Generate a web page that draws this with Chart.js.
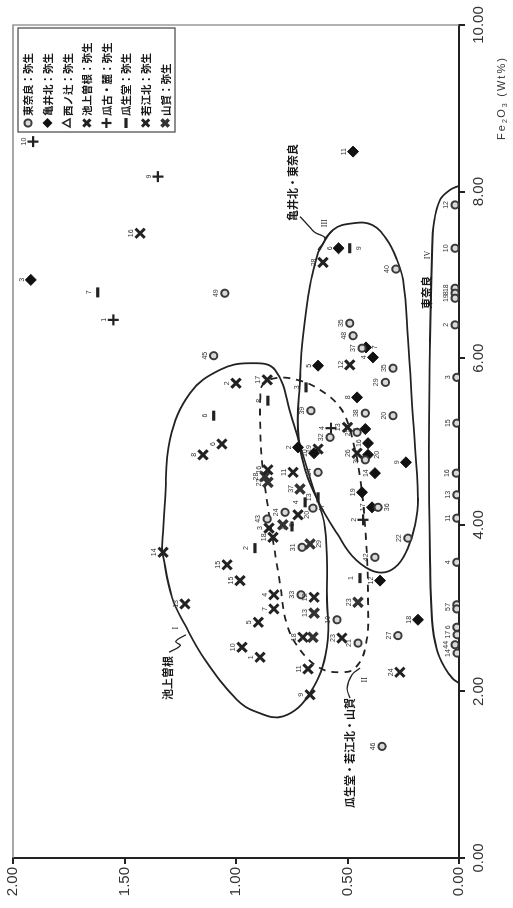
<!DOCTYPE html>
<html><head><meta charset="utf-8">
<script src="https://cdn.jsdelivr.net/npm/chart.js@4.4.1/dist/chart.umd.min.js"></script>
<style>
html,body{margin:0;padding:0;background:#fff;overflow:hidden;width:513px;height:908px;}
#wrap{position:absolute;left:0;top:0;width:908px;height:513px;transform-origin:0 0;transform:translate(0px,908px) rotate(-90deg);}
canvas{display:block;}
</style></head><body>
<div id="wrap"><canvas id="c" width="908" height="513"></canvas></div>
<script>
// ---------- data (x = Fe2O3 wt%, y = second oxide wt%) ----------
const seriesNames = ['東奈良：弥生','亀井北：弥生','西ノ辻：弥生','池上曽根：弥生','瓜古・麓：弥生','瓜生堂：弥生','若江北：弥生','山賀：弥生'];

const higashinaraNo = [49,40,35,48,37,45,35,29,38,20,39,32,25,30,34,36,47,24,43,22,31,42,33,10,21,27,46,12,10,18,8,19,2,3,15,16,13,11,4,7,5,6,17,44,14];
const higashinaraFe = [6.78,7.07,6.42,6.27,6.12,6.03,5.88,5.71,5.34,5.31,5.37,5.05,5.11,4.78,4.63,4.21,4.20,4.15,4.07,3.84,3.73,3.61,3.16,2.86,2.58,2.67,1.34,7.84,7.32,6.84,6.78,6.72,6.40,5.77,5.22,4.62,4.36,4.08,3.55,3.04,2.99,2.77,2.68,2.56,2.46];
const higashinaraY  = [1.05,0.283,0.49,0.475,0.435,1.10,0.296,0.33,0.42,0.296,0.664,0.578,0.457,0.42,0.632,0.363,0.655,0.78,0.86,0.229,0.704,0.377,0.708,0.547,0.453,0.274,0.345,0.018,0.018,0.018,0.018,0.018,0.018,0.01,0.01,0.012,0.01,0.01,0.01,0.01,0.01,0.01,0.008,0.018,0.008];

const kameiNo = [3,11,6,7,4,5,8,1,16,20,9,14,19,17,2,10,12,18];
const kameiFe = [6.94,8.48,7.32,6.13,6.01,5.91,5.53,5.15,4.98,4.84,4.75,4.62,4.39,4.21,4.93,4.86,3.33,2.86];
const kameiY  = [1.92,0.475,0.54,0.417,0.386,0.632,0.457,0.42,0.408,0.408,0.238,0.377,0.435,0.39,0.722,0.65,0.354,0.184];

const nishinotsujiNo = [];
const nishinotsujiFe = [];
const nishinotsujiY  = [];

const ikegamiNo = [1,2,3,4,5,6,7,8,9,10,11,12,13,14,15,15,16,17,18];
const ikegamiFe = [2.41,5.70,3.96,3.16,2.83,4.97,2.99,4.84,1.96,2.53,2.27,3.13,3.05,3.67,3.52,3.33,4.66,5.74,3.85];
const ikegamiY  = [0.892,1.00,0.852,0.83,0.90,1.063,0.83,1.148,0.668,0.973,0.677,0.65,1.229,1.327,1.04,0.982,0.857,0.86,0.834];

const urikoNo = [10,9,1,4,2];
const urikoFe = [8.60,8.18,6.46,5.16,4.06];
const urikoY  = [1.91,1.35,1.55,0.574,0.43];

const uryudoNo = [7,9,6,8,3,13,4,14,2,1];
const uryudoFe = [6.79,7.32,5.31,5.49,5.65,4.33,4.27,3.98,3.72,3.36];
const uryudoY  = [1.62,0.49,1.10,0.857,0.686,0.632,0.69,0.749,0.915,0.444];

const wakaeNo = [16,28,12,13,26,19,11,20,18,23,24];
const wakaeFe = [7.50,7.15,5.92,5.17,4.86,4.91,4.63,4.12,2.65,2.64,2.23];
const wakaeY  = [1.43,0.61,0.49,0.50,0.457,0.632,0.744,0.722,0.70,0.525,0.265];

const yamagaNo = [28,22,37,5,29,13,21,23];
const yamagaFe = [4.58,4.51,4.43,4.00,3.77,2.94,2.65,3.07];
const yamagaY  = [0.87,0.857,0.713,0.79,0.668,0.65,0.655,0.453];

// enclosure curves (Fe, y)
const curveI = [[3.70,1.332],[4.30,1.318],[5.02,1.296],[5.58,1.206],[5.86,1.072],[5.94,0.937],[5.86,0.825],[5.28,0.749],[4.96,0.713],[4.48,0.659],[3.97,0.601],[3.10,0.592],[2.53,0.592],[1.98,0.668],[1.70,0.789],[1.76,0.915],[1.90,0.996],[2.38,1.139],[2.80,1.229],[3.13,1.287],[3.70,1.332]];
const curveII = [[5.49,0.892],[5.67,0.883],[5.76,0.825],[5.74,0.726],[5.62,0.623],[5.41,0.534],[5.14,0.489],[4.57,0.444],[3.82,0.417],[3.10,0.408],[2.56,0.417],[2.28,0.466],[2.23,0.534],[2.28,0.623],[2.50,0.713],[2.80,0.771],[3.30,0.803],[4.06,0.848],[4.74,0.883],[5.26,0.892],[5.49,0.892]];
const curveIII = [[7.27,0.632],[7.54,0.565],[7.62,0.475],[7.60,0.39],[7.42,0.323],[7.18,0.278],[6.94,0.251],[6.25,0.229],[5.26,0.206],[4.33,0.184],[4.00,0.197],[3.72,0.229],[3.52,0.274],[3.43,0.332],[3.46,0.399],[3.63,0.48],[3.88,0.543],[4.24,0.623],[4.66,0.69],[5.14,0.722],[5.74,0.713],[6.25,0.70],[6.88,0.668],[7.27,0.632]];
const curveIV = [[8.07,0.0],[8.02,0.04],[7.90,0.085],[7.64,0.112],[7.24,0.121],[6.22,0.13],[4.90,0.135],[3.58,0.13],[2.86,0.121],[2.50,0.099],[2.28,0.063],[2.15,0.027],[2.10,0.0]];
const leaderI = [[2.47,1.30],[2.55,1.25],[2.60,1.27],[2.68,1.225]];
const leaderII = [[1.92,0.489],[2.04,0.502],[2.20,0.48],[2.28,0.444]];
const leaderIIIa = [[7.70,0.713],[7.57,0.668],[7.51,0.646],[7.44,0.601],[7.30,0.632]];
const leaderIIIb = [[7.44,0.601],[7.54,0.565]];

const groupLabels = ['池上曽根','瓜生堂・若江北・山賀','亀井北・東奈良','東奈良'];
const groupLabelAt = [[2.16,1.305],[1.26,0.489],[8.11,0.744],[6.79,0.143]];
const romanLabels = ['I','II','III','IV'];
const romanAt = [[2.76,1.27],[2.14,0.42],[7.62,0.60],[7.24,0.139]];

const xTicks = [0,2,4,6,8,10];
const yTicks = [0,0.5,1,1.5,2];
const xTitle = ['F','e','2','O','3',' ','(','W','t','%',')'];

// ---------- styles ----------
const INK = '#222';
const styles = [
  {pointStyle:'circle', r:3.6, bw:2, bg:'#d9d9d9', bc:'#3a3a3a'},
  {pointStyle:'rectRot', r:5.5, bw:1, bg:'#111', bc:'#111'},
  {pointStyle:'triangle', r:4.5, bw:1.5, bg:'#fff', bc:INK},
  {pointStyle:'crossRot', r:6.5, bw:3, bg:INK, bc:INK},
  {pointStyle:'cross', r:5.5, bw:2.2, bg:INK, bc:INK},
  {pointStyle:'line', r:5, bw:3.2, bg:INK, bc:INK},
  {pointStyle:'crossRot', r:6.5, bw:3, bg:INK, bc:INK},
  {pointStyle:'crossRot', r:6.5, bw:3.5, bg:'#333', bc:'#333'}
];
const seriesData = [
  [higashinaraFe, higashinaraY, higashinaraNo],
  [kameiFe, kameiY, kameiNo],
  [nishinotsujiFe, nishinotsujiY, nishinotsujiNo],
  [ikegamiFe, ikegamiY, ikegamiNo],
  [urikoFe, urikoY, urikoNo],
  [uryudoFe, uryudoY, uryudoNo],
  [wakaeFe, wakaeY, wakaeNo],
  [yamagaFe, yamagaY, yamagaNo]
];
const labelBelow = ['5:9','1:7','0:36','0:47','6:20','7:29','7:5','1:20'];

const markerSets = seriesData.map((s, i) => ({
  label: seriesNames[i],
  data: s[0].map((f, j) => ({x: f, y: s[1][j]})),
  pointStyle: styles[i].pointStyle,
  pointRadius: styles[i].r,
  pointBorderWidth: styles[i].bw,
  pointBackgroundColor: styles[i].bg,
  pointBorderColor: styles[i].bc,
  showLine: false
}));
function curveSet(pts, dashed, w) {
  return {type:'line', data: pts.map(p => ({x:p[0], y:p[1]})), borderColor: INK, borderWidth: w || 1.8,
    borderDash: dashed ? [7,6] : [], pointRadius: 0, tension: 0.4, fill: false, showLine: true};
}
const curveSets = [curveSet(curveI), curveSet(curveII, true), curveSet(curveIII), curveSet(curveIV),
  curveSet(leaderI, false, 1.3), curveSet(leaderII, false, 1.3), curveSet(leaderIIIa, false, 1.3), curveSet(leaderIIIb, false, 1.3)];

const SANS = '"Liberation Sans", Arial, sans-serif';
const CJK = '"Noto Sans CJK JP", "Noto Sans", sans-serif';

function sym(ctx, st, x, y, r) {
  ctx.save();
  ctx.lineWidth = st.bw; ctx.strokeStyle = st.bc; ctx.fillStyle = st.bg;
  ctx.beginPath();
  const d = r * 0.72;
  switch (st.pointStyle) {
    case 'circle': ctx.arc(x, y, r, 0, Math.PI*2); ctx.fill(); ctx.stroke(); break;
    case 'rectRot': ctx.moveTo(x, y-r); ctx.lineTo(x+r, y); ctx.lineTo(x, y+r); ctx.lineTo(x-r, y); ctx.closePath(); ctx.fill(); break;
    case 'triangle': ctx.moveTo(x, y-r); ctx.lineTo(x+r*0.9, y+r*0.6); ctx.lineTo(x-r*0.9, y+r*0.6); ctx.closePath(); ctx.stroke(); break;
    case 'crossRot': ctx.moveTo(x-d, y-d); ctx.lineTo(x+d, y+d); ctx.moveTo(x+d, y-d); ctx.lineTo(x-d, y+d); ctx.stroke(); break;
    case 'cross': ctx.moveTo(x-r, y); ctx.lineTo(x+r, y); ctx.moveTo(x, y-r); ctx.lineTo(x, y+r); ctx.stroke(); break;
    case 'line': ctx.moveTo(x-r, y); ctx.lineTo(x+r, y); ctx.stroke(); break;
  }
  ctx.restore();
}

const overlay = {
  id: 'overlay',
  beforeDatasetsDraw(chart) {
    const {ctx, chartArea: a} = chart;
    ctx.save();
    ctx.strokeStyle = '#8a8a8a'; ctx.lineWidth = 1.3;
    ctx.beginPath();
    ctx.moveTo(a.left, a.top); ctx.lineTo(a.right, a.top); ctx.lineTo(a.right, a.bottom);
    ctx.stroke();
    ctx.restore();
  },
  afterDatasetsDraw(chart) {
    const {ctx, chartArea: a, scales: {x: xs, y: ys}} = chart;
    ctx.save();
    // point numbers
    ctx.fillStyle = '#333';
    ctx.font = '7px ' + SANS;
    ctx.textAlign = 'center'; ctx.textBaseline = 'middle';
    seriesData.forEach((s, i) => {
      const meta = chart.getDatasetMeta(i);
      meta.data.forEach((el, j) => {
        const key = i + ':' + s[2][j];
        const dy = labelBelow.includes(key) ? 9 : -9;
        ctx.fillText(String(s[2][j]), el.x, el.y + dy);
      });
    });
    // group labels
    ctx.fillStyle = '#1a1a1a';
    ctx.font = 'bold 11px ' + CJK;
    groupLabels.forEach((t, i) => {
      ctx.fillText(t, xs.getPixelForValue(groupLabelAt[i][0]), ys.getPixelForValue(groupLabelAt[i][1]));
    });
    ctx.font = '8px "Liberation Serif", serif';
    romanLabels.forEach((t, i) => {
      ctx.fillText(t, xs.getPixelForValue(romanAt[i][0]), ys.getPixelForValue(romanAt[i][1]));
    });
    // legend
    const lw = 104, lh = 157;
    const lx = a.right - lw - 3, ly = a.top + 5;
    ctx.fillStyle = '#fff';
    ctx.fillRect(lx, ly, lw, lh);
    ctx.strokeStyle = '#444'; ctx.lineWidth = 1.2;
    ctx.strokeRect(lx, ly, lw, lh);
    ctx.textAlign = 'left';
    ctx.font = 'bold 10.5px ' + CJK;
    seriesNames.forEach((n, k) => {
      const cy = ly + 10 + k * 19.6;
      const st = styles[k];
      sym(ctx, st, lx + 9, cy, Math.min(st.r, 5));
      ctx.fillStyle = '#1a1a1a';
      ctx.fillText(n, lx + 16, cy + 0.5);
    });
    // x axis title
    let tx = xs.getPixelForValue(8.62);
    const ty = a.bottom + 46;
    ctx.textBaseline = 'alphabetic';
    xTitle.forEach(ch => {
      const sub = (ch === '2' || ch === '3');
      ctx.font = (sub ? '7px ' : '11px ') + SANS;
      ctx.fillStyle = '#333';
      ctx.fillText(ch, tx, ty + (sub ? 2 : 0));
      tx += ctx.measureText(ch).width + (sub ? 1.5 : 2);
    });
    ctx.restore();
  }
};

new Chart(document.getElementById('c'), {
  type: 'scatter',
  data: {datasets: [...markerSets, ...curveSets]},
  options: {
    responsive: false, animation: false, devicePixelRatio: 1, events: [],
    layout: {padding: {top: 13, right: 25, left: 0, bottom: 0}},
    plugins: {legend: {display: false}, tooltip: {enabled: false}},
    scales: {
      x: {
        type: 'linear', min: 0, max: 10,
        afterBuildTicks(s) { s.ticks = xTicks.map(v => ({value: v})); },
        ticks: {callback: v => Number(v).toFixed(2), font: {size: 15, family: SANS}, color: '#333', padding: 5, maxRotation: 0, autoSkip: false},
        grid: {drawOnChartArea: false, drawTicks: true, tickLength: 6, color: INK, lineWidth: 2},
        border: {color: INK, width: 2},
        afterFit(s) { s.height = 54; }
      },
      y: {
        type: 'linear', min: 0, max: 2,
        afterBuildTicks(s) { s.ticks = yTicks.map(v => ({value: v})); },
        ticks: {callback: v => Number(v).toFixed(2), font: {size: 15, family: SANS}, color: '#333', padding: 3, autoSkip: false},
        grid: {drawOnChartArea: false, drawTicks: true, tickLength: 6, color: INK, lineWidth: 2},
        border: {color: INK, width: 2},
        afterFit(s) { s.width = 50; }
      }
    }
  },
  plugins: [overlay]
});
</script></body></html>
